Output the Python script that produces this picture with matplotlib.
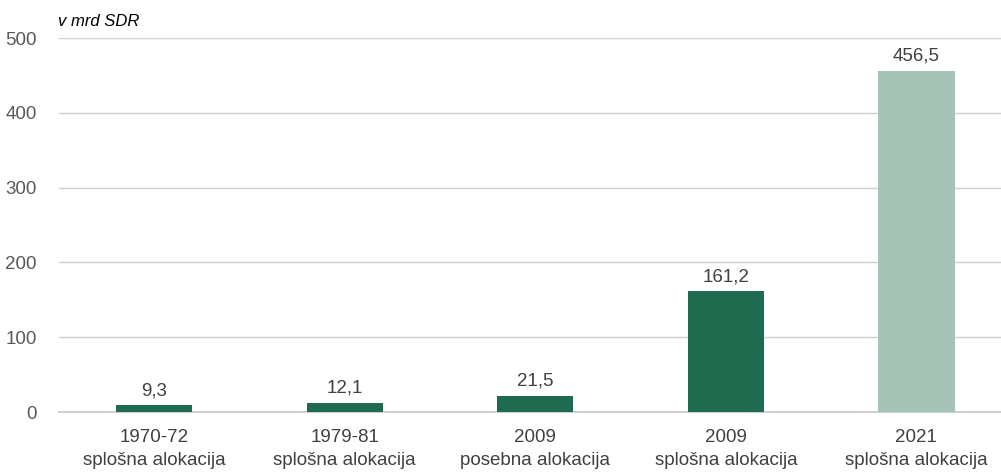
import matplotlib
matplotlib.use("Agg")
import matplotlib.pyplot as plt
from matplotlib import font_manager

names = {f.name for f in font_manager.fontManager.ttflist}
fam = ["Liberation Sans Narrow", "Liberation Sans", "DejaVu Sans"]
fam = [f for f in fam if f in names] or ["DejaVu Sans"]
plt.rcParams["font.family"] = fam

categories = ["1970-72\nsplošna alokacija", "1979-81\nsplošna alokacija",
              "2009\nposebna alokacija", "2009\nsplošna alokacija",
              "2021\nsplošna alokacija"]
values = [9.3, 12.1, 21.5, 161.2, 456.5]
labels = ["9,3", "12,1", "21,5", "161,2", "456,5"]
colors = ["#1F6B4F", "#1F6B4F", "#1F6B4F", "#1F6B4F", "#A6C3B8"]

fig = plt.figure(figsize=(10.01, 4.75), dpi=100)
ax = fig.add_axes([0.0587, 0.1326, 0.952, 0.7874])

x = range(len(categories))
ax.bar(x, values, width=0.40, color=colors, zorder=3)
for xi, v, lab in zip(x, values, labels):
    ax.text(xi, v + 8, lab, ha="center", va="bottom", fontsize=13.5, color="#404040")

ax.set_xlim(-0.5, len(categories) - 0.5)
ax.set_ylim(0, 500)
ax.set_yticks([0, 100, 200, 300, 400, 500])
ax.yaxis.grid(True, color="#D0D0D0", linewidth=1, zorder=0)
ax.set_xticks(list(x))
ax.set_xticklabels(categories, fontsize=13.5, color="#404040", linespacing=1.45)
ax.tick_params(axis="y", labelsize=13.5, labelcolor="#595959", length=0, pad=16)
ax.tick_params(axis="x", length=0, pad=12)
for s in ["top", "right", "left"]:
    ax.spines[s].set_visible(False)
ax.spines["bottom"].set_color("#D0D0D0")
ax.spines["bottom"].set_linewidth(1.5)

fig.text(0.058, 0.955, "v mrd SDR", fontsize=12, style="italic", color="#000000",
         ha="left", va="center")

fig.savefig("out.png", dpi=100)
